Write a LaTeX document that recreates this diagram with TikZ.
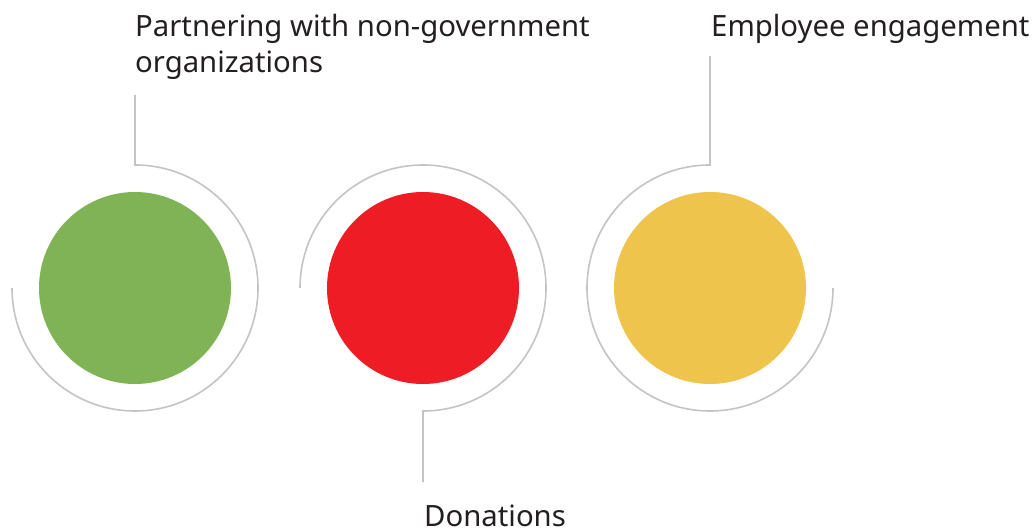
\documentclass[tikz,border=0pt]{standalone}
\usepackage{fontspec}
\setmainfont{Noto Sans}
\definecolor{cgreen}{HTML}{7FB356}
\definecolor{cred}{HTML}{EE1C25}
\definecolor{cyellow}{HTML}{EFC44C}
\definecolor{cring}{HTML}{C4C4C4}
\definecolor{ctext}{HTML}{231F20}
\begin{document}
\begin{tikzpicture}[x=1pt,y=1pt,
  dot/.style={circle,minimum size=192pt,inner sep=0pt,draw=none},
  ring/.style={draw=cring,line width=1.6pt},
  lbl/.style={font=\fontsize{29.3}{36}\selectfont,text=ctext,inner sep=0pt,align=left}]
\useasboundingbox (0,0) rectangle (1033,528);
\node[dot,fill=cgreen] (c1) at (135,240) {};
\node[dot,fill=cred] (c2) at (423,240) {};
\node[dot,fill=cyellow] (c3) at (710,240) {};
\coordinate (e1) at (135,433);
\coordinate (e2) at (423,46);
\coordinate (e3) at (710,472);
\draw[ring] ([xshift=-123pt]c1.center) arc[start angle=180,end angle=450,radius=123] -- (e1);
\draw[ring] ([xshift=-123pt]c2.center) arc[start angle=180,end angle=-90,radius=123] -- (e2);
\draw[ring] ([xshift=123pt]c3.center) arc[start angle=0,end angle=-270,radius=123] -- (e3);
\node[lbl,anchor=base west] (t1) at (135,455) {Partnering with non-government\\organizations};
\node[lbl,anchor=base west] (t2) at (424,2) {Donations};
\node[lbl,anchor=base west] (t3) at (711,491) {Employee engagement};
\end{tikzpicture}
\end{document}
